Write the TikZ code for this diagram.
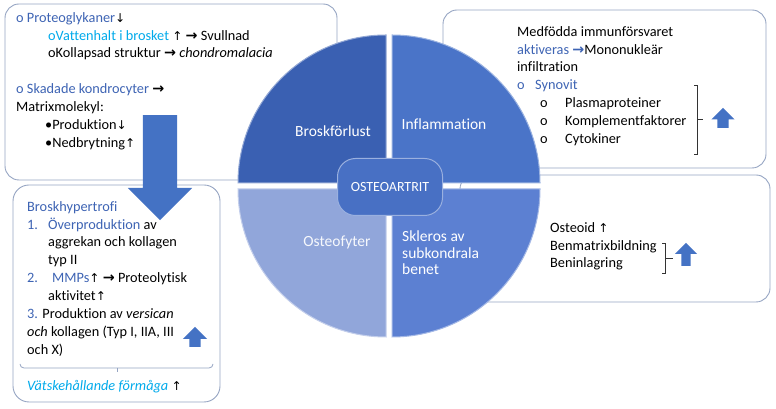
\documentclass[tikz,border=0pt]{standalone}
\usepackage{fontspec}
\setmainfont{Carlito}[Ligatures=NoCommon]
\newfontfamily\arrowsym{DejaVu Sans}[Scale=0.85]
\newfontfamily\arrowbig{DejaVu Sans}[Scale=1.0]
\usetikzlibrary{shapes.arrows, positioning}
\definecolor{textblue}{RGB}{62, 100, 180}
\definecolor{skyblue}{RGB}{0, 170, 235}
\definecolor{boxline}{RGB}{150, 165, 195}
\definecolor{arrowblue}{RGB}{68, 114, 196}
\definecolor{quadA}{RGB}{58, 96, 178}
\definecolor{quadB}{RGB}{74, 116, 200}
\definecolor{quadC}{RGB}{145, 166, 218}
\definecolor{quadD}{RGB}{92, 128, 210}
\definecolor{hubblue}{RGB}{72, 112, 196}

\begin{document}
\begin{tikzpicture}[x=1pt, y=1pt,
  infobox/.style={draw=boxline, fill=white, rounded corners=14pt, line width=0.9pt},
  txt/.style={inner sep=0pt, align=left, anchor=north west, font=\fontsize{14.3}{17.9}\selectfont},
  quadlabel/.style={text=white, inner sep=0pt, font=\fontsize{15.5}{16.5}\selectfont},
  blockarrow/.style={single arrow, fill=arrowblue, draw=none, anchor=tail},
  bracket/.style={draw=black!80, line width=0.8pt}
]
  \useasboundingbox (0,0) rectangle (776,409);

  % text boxes behind the wheel
  \node[infobox, minimum width=332, minimum height=176] (boxLoss) at (171,317) {};
  \node[infobox, minimum width=323, minimum height=158] (boxInfl) at (604.5,320) {};
  \node[infobox, minimum width=310, minimum height=127] (boxScl) at (615,170.5) {};
  \node[infobox, minimum width=207, minimum height=217, rounded corners=16pt] (boxHyp) at (116.5,115.5) {};

  % the four quarters
  \fill[quadA, draw=quadA!55!white, line width=1pt] (386,226) -- ++(-148,0) arc[start angle=180, end angle=90, radius=148] -- cycle;
  \fill[quadB, draw=quadB!55!white, line width=1pt] (392,226) -- ++(0,148) arc[start angle=90, end angle=0, radius=148] -- cycle;
  \fill[quadD, draw=quadD!55!white, line width=1pt] (392,220) -- ++(148,0) arc[start angle=0, end angle=-90, radius=148] -- cycle;
  \fill[quadC, draw=quadC!55!white, line width=1pt] (386,220) -- ++(0,-148) arc[start angle=270, end angle=180, radius=148] -- cycle;

  \node[quadlabel] (lossLbl) at (333,278) {Broskförlust};
  \node[quadlabel] (inflLbl) at (444,285) {Inflammation};
  \node[quadlabel, text=white!92!quadC] (osteoLbl) at (337,167) {Osteofyter};
  \node[quadlabel, align=left, anchor=north west] (sclLbl) at (402,178) {Skleros av\\subkondrala\\benet};

  \node[fill=hubblue, draw=hubblue!55!white, line width=1pt, rounded corners=18pt,
        minimum width=105, minimum height=57, text=white,
        font=\fontsize{14}{15}\selectfont] (hub) at (390,222) {OSTEOARTRIT};

  % upper left box
  \node[txt] (lossTxt) at (16,397) {
    {\color{textblue}o Proteoglykaner}{\arrowsym ↓}\\
    \hspace*{32pt}{\color{skyblue}oVattenhalt i brosket} {\arrowsym ↑} {\arrowbig\bfseries →} Svullnad\\
    \hspace*{32pt}oKollapsad struktur {\arrowbig\bfseries →} \textit{chondromalacia}\\[17.9pt]
    {\color{textblue}o Skadade kondrocyter} {\arrowbig\bfseries →}\\
    Matrixmolekyl:\\
    \hspace*{29pt}•Produktion{\arrowsym ↓}\\
    \hspace*{29pt}•Nedbrytning{\arrowsym ↑}
  };

  % big arrow down to the lower box
  \node[blockarrow, shape border rotate=270, inner sep=17pt, minimum height=105,
        single arrow head extend=15] (downArr) at (160,294) {};

  % lower left box
  \node[txt] (hypTxt) at (27,208) {
    {\color{textblue}Broskhypertrofi}\\
    {\color{textblue}\makebox[21pt][l]{1.}Överproduktion} av\\
    \hspace*{21pt}aggrekan och kollagen\\
    \hspace*{21pt}typ II\\
    {\color{textblue}\makebox[25pt][l]{2.}MMPs}{\arrowsym ↑} {\arrowbig\bfseries →} Proteolytisk\\
    \hspace*{21pt}aktivitet{\arrowsym ↑}\\
    {\color{textblue}3.} Produktion av \textit{versican}\\
    \textit{och} kollagen (Typ I, IIA, III\\
    och X)
  };
  \node[blockarrow, shape border rotate=90, inner sep=5.5pt, minimum height=20,
        single arrow head extend=6.5] (hypArr) at (195,62) {};
  \draw[draw=boxline, line width=0.8pt] (20,45) to[out=-90, in=180] (24,41) -- (209,41)
    to[out=0, in=-90] (213,45);
  \draw[draw=boxline, line width=0.8pt] (117,41) -- (117,37);
  \node[txt, anchor=base west] (fluidTxt) at (27,18) {\textit{\color{skyblue}Vätskehållande förmåga} {\arrowsym ↑}};

  % upper right box
  \node[txt] (inflTxt) at (517,383) {
    Medfödda immunförsvaret\\
    {\color{textblue}aktiveras {\arrowbig\bfseries →}}Mononukleär\\
    infiltration\\
    {\color{textblue}\makebox[18pt][l]{o}Synovit}\\
    \hspace*{23pt}\makebox[25pt][l]{o}Plasmaproteiner\\
    \hspace*{23pt}\makebox[25pt][l]{o}Komplementfaktorer\\
    \hspace*{23pt}\makebox[25pt][l]{o}Cytokiner
  };
  \draw[bracket] (694,324) -- (697,324) -- (697,255) -- (694,255);
  \draw[bracket] (697,290) -- (703,290);
  \node[blockarrow, shape border rotate=90, inner sep=5.5pt, minimum height=20,
        single arrow head extend=6] (inflArr) at (723,281) {};

  % middle right box
  \node[txt] (sclTxt) at (550,187) {
    Osteoid {\arrowsym ↑}\\
    Benmatrixbildning\\
    Beninlagring
  };
  \draw[bracket] (662,166) -- (665,166) -- (665,136) -- (662,136);
  \draw[bracket] (665,151) -- (673,151);
  \node[blockarrow, shape border rotate=90, inner sep=4.5pt, minimum height=23,
        single arrow head extend=6.5] (sclArr) at (686,143) {};
\end{tikzpicture}
\end{document}
